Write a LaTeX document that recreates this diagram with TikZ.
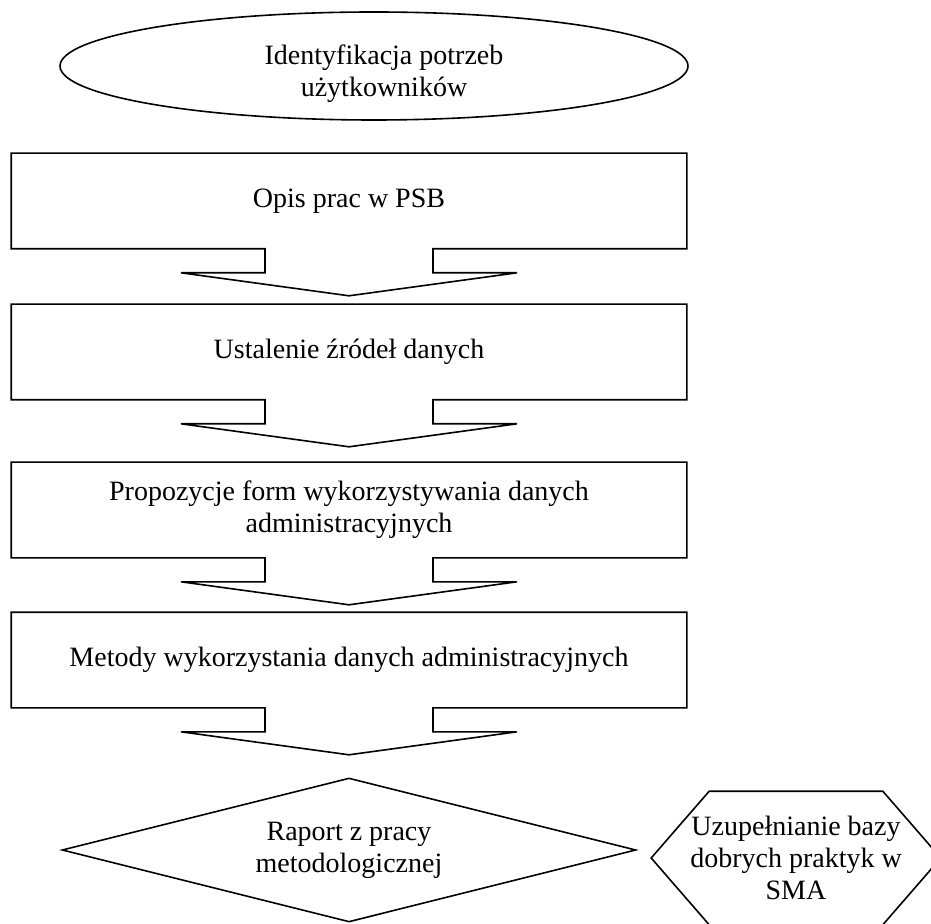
\documentclass[tikz,border=0pt]{standalone}
\usepackage{fontspec}
\setmainfont{Liberation Serif}
\usetikzlibrary{shapes,positioning,calc}

\tikzset{
	krok/.style={rectangle,minimum width=337pt,minimum height=47pt,inner sep=2pt,align=center},
	start/.style={ellipse,draw,minimum width=314pt,minimum height=54pt,inner sep=1pt,align=center},
	decyzja/.style={diamond,draw,aspect=4,minimum width=287pt,minimum height=72pt,inner sep=1pt,align=center},
	szesciokat/.style={rectangle,minimum width=144pt,minimum height=66pt,inner sep=1pt,align=center}
}

\begin{document}
\begin{tikzpicture}[x=0.5pt,y=-0.5pt,line width=0.8pt,font=\fontsize{14}{16}\selectfont]
	\clip (0,0) rectangle (931,924);

	\node[start,label={[align=center,xshift=5pt,yshift=-4pt]center:Identyfikacja potrzeb\\użytkowników}] (potrzeby) at (374,66) {};

	\node[krok] (opis)   at (349,201) {Opis prac w PSB};
	\node[krok] (zrodla) at (349,352) {Ustalenie źródeł danych};
	\node[krok] (formy)  at (349,510) {Propozycje form wykorzystywania danych\\administracyjnych};
	\node[krok] (metody) at (349,660) {Metody wykorzystania danych administracyjnych};

	% ramka ze strzalka w dol
	\foreach \n in {opis,zrodla,formy,metody}
		\draw (\n.south west) -- (\n.north west) -- (\n.north east) -- (\n.south east)
			-- ($(\n.south)+(84,0)$) -- ++(0,24) -- ++(84,0) -- ($(\n.south)+(0,47)$)
			-- ++(-168,-23) -- ++(84,0) -- ++(0,-24) -- cycle;

	\node[decyzja] (raport) at (349,850) {Raport z pracy\\metodologicznej};

	\node[szesciokat] (baza) at (796,858) {Uzupełnianie bazy\\dobrych praktyk w\\SMA};
	\draw (baza.west) -- ($(baza.north west)+(58,0)$) -- ($(baza.north east)+(-58,0)$) -- (baza.east)
		-- ($(baza.south east)+(-58,0)$) -- ($(baza.south west)+(58,0)$) -- cycle;
\end{tikzpicture}
\end{document}
